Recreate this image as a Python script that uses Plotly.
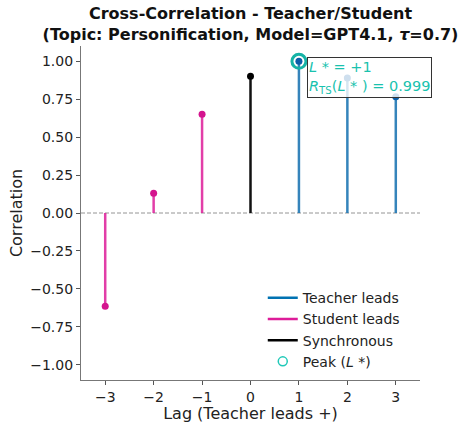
import plotly.graph_objects as go

lags = [-3, -2, -1, 0, 1, 2, 3]
corr = [-0.615, 0.13, 0.65, 0.90, 0.999, 0.89, 0.765]
peak_lag = 1
peak_val = 0.999

title_line1 = "Cross-Correlation - Teacher/Student"
title_line2 = "(Topic: Personification, Model=GPT4.1, <i>τ</i>=0.7)"

groups = [
    ("Teacher leads", lambda l: l > 0, "rgba(31,119,180,0.9)", "#0b5ea8", "#0072B2"),
    ("Student leads", lambda l: l < 0, "rgba(221,28,153,0.85)", "#d4148e", "#dd1c99"),
    ("Synchronous", lambda l: l == 0, "#111111", "#000000", "#000000"),
]

FONT = "DejaVu Sans"
fig = go.Figure()

for name, cond, stem_col, mk_col, leg_col in groups:
    xs, ys, mx, my = [], [], [], []
    for l, v in zip(lags, corr):
        if cond(l):
            xs += [l, l, None]
            ys += [0, v, None]
            mx.append(l)
            my.append(v)
    fig.add_trace(go.Scatter(x=xs, y=ys, mode="lines", line=dict(color=stem_col, width=2.5),
                             name=name, showlegend=False, hoverinfo="skip"))
    fig.add_trace(go.Scatter(x=mx, y=my, mode="markers", marker=dict(color=mk_col, size=7),
                             showlegend=False))
    fig.add_trace(go.Scatter(x=[None], y=[None], mode="lines", line=dict(color=leg_col, width=2.5),
                             name=name))

fig.add_trace(go.Scatter(x=[peak_lag], y=[peak_val], mode="markers",
                         marker=dict(symbol="circle-open", size=14, color="#16b3a6",
                                     line=dict(width=3, color="#16b3a6")),
                         showlegend=False))
fig.add_trace(go.Scatter(x=[None], y=[None], mode="markers",
                         marker=dict(symbol="circle-open", size=9, color="#20c9b8",
                                     line=dict(width=1.5, color="#20c9b8")),
                         name="Peak (<i>L</i> *)"))

fig.add_hline(y=0, line=dict(color="#888888", width=0.9, dash="4px,2px"), layer="below")

fig.add_annotation(x=1.17, y=1.03, xref="x", yref="y", xanchor="left", yanchor="top",
                   text=f"<i>L</i> * = +{peak_lag}<br><i>R</i><sub>TS</sub>(<i>L</i> * ) = {peak_val:.3f}",
                   showarrow=False, align="left",
                   font=dict(family=FONT, size=14.5, color="#19c2ae"),
                   bgcolor="rgba(255,255,255,0.8)", bordercolor="#333333", borderwidth=1,
                   borderpad=1)

fig.update_layout(
    width=465, height=423,
    margin=dict(l=81, r=45, t=46, b=43, autoexpand=False),
    paper_bgcolor="white", plot_bgcolor="white",
    font=dict(family=FONT, size=14, color="#222222"),
    title=dict(text=f"<b>{title_line1}</b><br><b>{title_line2}</b>",
               x=0.5, xanchor="center", xref="paper",
               y=0.955, yref="container", yanchor="top",
               font=dict(family=FONT, size=16, color="#111111")),
    legend=dict(x=0.958, y=0.293, xanchor="right", yanchor="top", bgcolor="rgba(0,0,0,0)",
                font=dict(family=FONT, size=14, color="#222222"), itemwidth=30,
                tracegroupgap=0),
    showlegend=True,
)

fig.update_xaxes(range=[-3.5, 3.5], tickvals=lags, ticktext=[str(l).replace("-", "−") for l in lags],
                 showgrid=False, zeroline=False, showline=True, linecolor="#777777", linewidth=1.2,
                 ticks="outside", ticklen=4, tickcolor="#555555", automargin=False,
                 title=dict(text="Lag (Teacher leads +)", font=dict(size=16), standoff=4),
                 tickfont=dict(size=14))
yt = [-1.0, -0.75, -0.5, -0.25, 0.0, 0.25, 0.5, 0.75, 1.0]
fig.update_yaxes(range=[-1.1, 1.1], tickvals=yt, ticktext=[f"{v:.2f}".replace("-", "−") for v in yt],
                 showgrid=False, zeroline=False, showline=True, linecolor="#777777", linewidth=1.2,
                 ticks="outside", ticklen=4, tickcolor="#555555", automargin=False,
                 title=dict(text="Correlation", font=dict(size=16), standoff=3),
                 tickfont=dict(size=14))

fig.write_html("out.html", config={"displayModeBar": False},
               post_script="document.body.style.margin='0';")
